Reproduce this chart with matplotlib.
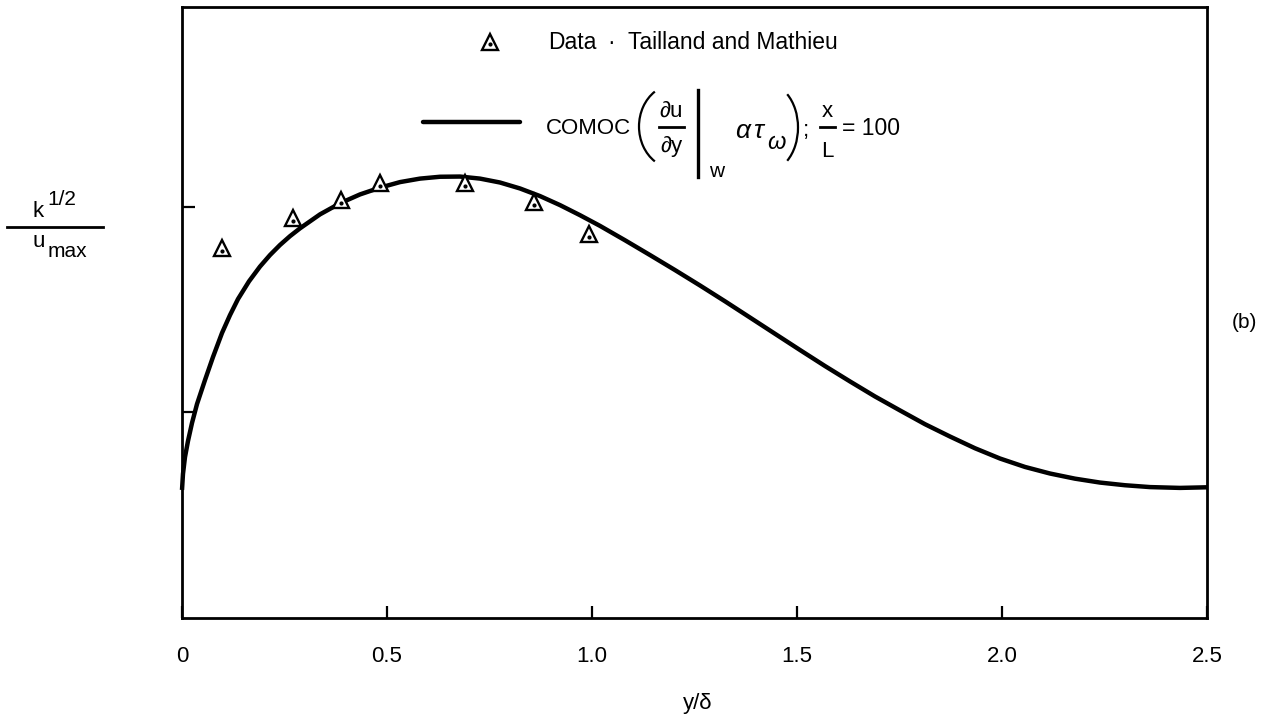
import matplotlib
matplotlib.use('Agg')
import matplotlib.pyplot as plt
import matplotlib.transforms as mtransforms
from matplotlib.patches import Arc

plt.rcParams['font.family'] = ['Liberation Sans', 'DejaVu Sans']
plt.rcParams['mathtext.fontset'] = 'custom'
plt.rcParams['mathtext.rm'] = 'Liberation Sans'
plt.rcParams['mathtext.it'] = 'Liberation Sans:italic'
plt.rcParams['mathtext.bf'] = 'Liberation Sans:bold'

# ---- data ----
data_x = [0.098, 0.271, 0.388, 0.483, 0.690, 0.858, 0.993]
data_y = [0.1800, 0.1946, 0.2034, 0.2117, 0.2117, 0.2024, 0.1869]

curve_x = [0.0, 0.0024, 0.0073, 0.0146, 0.0244, 0.0366, 0.0561, 0.0756, 0.0976,
           0.1171, 0.1366, 0.1634, 0.1902, 0.2146, 0.2390, 0.2634, 0.2878, 0.3366,
           0.3854, 0.4341, 0.4829, 0.5317, 0.5805, 0.6293, 0.6780, 0.7268, 0.7756,
           0.8244, 0.8732, 0.9220, 0.9707, 1.0195, 1.0805, 1.1415, 1.2024, 1.2634,
           1.3244, 1.3854, 1.4463, 1.5073, 1.5683, 1.6293, 1.6902, 1.7512, 1.8122,
           1.8732, 1.9341, 1.9951, 2.0561, 2.1171, 2.1780, 2.2390, 2.3000, 2.3610,
           2.4341, 2.5]
curve_y = [0.0623, 0.0701, 0.0783, 0.0861, 0.0949, 0.1041, 0.1158, 0.1270, 0.1387,
           0.1474, 0.1552, 0.1638, 0.1710, 0.1766, 0.1815, 0.1858, 0.1896, 0.1964,
           0.2018, 0.2061, 0.2094, 0.2121, 0.2138, 0.2147, 0.2148, 0.2138, 0.2119,
           0.2090, 0.2053, 0.2009, 0.1960, 0.1908, 0.1838, 0.1766, 0.1693, 0.1618,
           0.1541, 0.1462, 0.1383, 0.1304, 0.1226, 0.1151, 0.1078, 0.1010, 0.0943,
           0.0883, 0.0826, 0.0776, 0.0735, 0.0703, 0.0678, 0.0659, 0.0646, 0.0637,
           0.0633, 0.0636]

xtick_vals = [0.0, 0.5, 1.0, 1.5, 2.0, 2.5]
xtick_labels = ['0', '0.5', '1.0', '1.5', '2.0', '2.5']
ytick_vals = [0.1, 0.2]

legend_data_label = 'Data'
legend_data_source = 'Tailland and Mathieu'
legend_model = 'COMOC'
x_label = 'y/\u03b4'
panel_label = '(b)'

W, H = 1278, 725
fig = plt.figure(figsize=(W / 100, H / 100), dpi=100)
fig.patch.set_facecolor('white')

ax = fig.add_axes([182 / W, 1 - 618 / H, (1207 - 182) / W, (618 - 7) / H])
ax.set_xlim(0, 2.5)
ax.set_ylim(0, 0.2973)
for s in ax.spines.values():
    s.set_linewidth(2.0)
ax.plot(curve_x, curve_y, color='black', lw=3.2, clip_on=False, zorder=2,
        solid_joinstyle='round', solid_capstyle='butt')
ax.plot(data_x, data_y, ls='none', marker='^', ms=12, mfc='white', mec='black',
        mew=1.7, zorder=3)
dot_off = mtransforms.ScaledTranslation(0, -2.0 / 72, fig.dpi_scale_trans)
ax.plot(data_x, data_y, ls='none', marker='o', ms=2, color='black', zorder=4,
        transform=ax.transData + dot_off)

ax.set_xticks(xtick_vals)
ax.set_xticklabels(xtick_labels)
ax.set_yticks(ytick_vals)
ax.set_yticklabels([])
ax.tick_params(axis='x', direction='in', length=9, width=1.6, pad=20, labelsize=16)
ax.tick_params(axis='y', direction='in', length=9, width=1.6)

# overlay in pixel coordinates for annotations
ov = fig.add_axes([0, 0, 1, 1], zorder=5)
ov.set_xlim(0, W)
ov.set_ylim(H, 0)
ov.axis('off')
ov.patch.set_alpha(0)

FS = 16
# top legend row
ov.plot([490], [42], ls='none', marker='^', ms=12, mfc='white', mec='black', mew=1.7)
ov.plot([490], [44], ls='none', marker='o', ms=2, color='black')
ov.text(548, 42, legend_data_label, fontsize=16.5, ha='left', va='center')
ov.text(607, 42, '\u00b7', fontsize=16.5, ha='left', va='center')
ov.text(628, 42, legend_data_source, fontsize=16.5, ha='left', va='center')

# model legend row
ov.plot([423, 520], [122, 122], color='black', lw=3.2, solid_capstyle='round')
ov.text(546, 128, legend_model, fontsize=FS, ha='left', va='center')
ov.add_patch(Arc((675, 126.5), 72, 84.2, theta1=120, theta2=240, lw=1.6, color='black'))
ov.text(671, 117, '\u2202u', fontsize=FS, ha='center', va='baseline')
ov.plot([659, 684], [127, 127], color='black', lw=2)
ov.text(671, 152, '\u2202y', fontsize=FS, ha='center', va='baseline')
ov.plot([698, 698], [90, 177], color='black', lw=2.4)
ov.text(709, 177, 'w', fontsize=15, ha='left', va='baseline')
ov.text(735, 138, r'$\alpha\,\tau$', fontsize=19, ha='left', va='baseline')
ov.text(767, 149, r'$\omega$', fontsize=17, ha='left', va='baseline')
ov.add_patch(Arc((768, 127.5), 60, 86.6, theta1=-60, theta2=60, lw=1.6, color='black'))
ov.text(803, 136, ';', fontsize=FS, ha='left', va='baseline')
ov.text(827, 117, 'x', fontsize=FS, ha='center', va='baseline')
ov.plot([820, 835], [127, 127], color='black', lw=2)
ov.text(827, 157, 'L', fontsize=FS, ha='center', va='baseline')
ov.text(842, 128, '= 100', fontsize=16.5, ha='left', va='center')

# y-axis label as a stacked fraction
ov.text(33, 217, 'k', fontsize=16, ha='left', va='baseline')
ov.text(47, 205, '1/2', fontsize=15, ha='left', va='baseline')
ov.plot([7, 103], [227, 227], color='black', lw=2)
ov.text(33, 247, 'u', fontsize=16, ha='left', va='baseline')
ov.text(48, 257, 'max', fontsize=15, ha='left', va='baseline')

# x label and panel label
ov.text(698, 703, x_label, fontsize=16, ha='center', va='center')
ov.text(1244, 322, panel_label, fontsize=15, ha='center', va='center')

fig.savefig('out.png', dpi=100, facecolor='white')
